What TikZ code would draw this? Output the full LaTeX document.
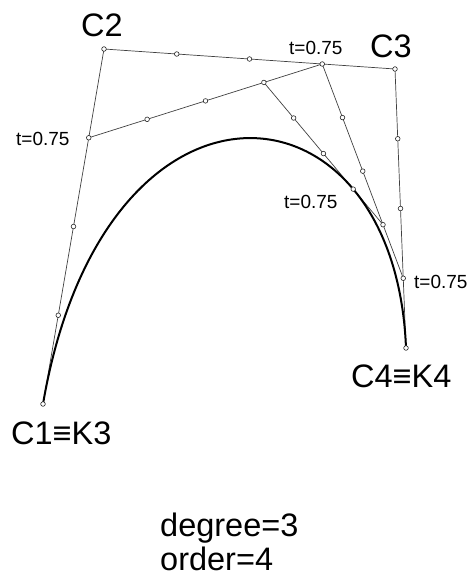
\documentclass[tikz,border=0pt]{standalone}
\usepackage{fontspec}
\setmainfont{Liberation Sans}
\usetikzlibrary{calc, positioning}

\begin{document}
\begin{tikzpicture}[x=1pt, y=-1pt,
    ctrl/.style={draw=black!75, line width=0.7pt},
    curve/.style={draw=black, line width=2pt},
    dot/.style={circle, draw=black!85, fill=white, line width=0.6pt, inner sep=0pt, minimum size=4.6pt},
    big/.style={font=\fontsize{32.5}{36}\selectfont, inner sep=0pt, anchor=base west},
    small/.style={font=\fontsize{19}{21}\selectfont, inner sep=0pt, anchor=base west}]
    \useasboundingbox (0,0) rectangle (468,576);

    % Control points
    \coordinate (C1) at (43,404);
    \coordinate (C2) at (104,49);
    \coordinate (C3) at (395,69);
    \coordinate (C4) at (406,348);

    % de Casteljau, t=0.75
    \coordinate (P01) at ($(C1)!0.75!(C2)$);
    \coordinate (P12) at ($(C2)!0.75!(C3)$);
    \coordinate (P23) at ($(C3)!0.75!(C4)$);
    \coordinate (P012) at ($(P01)!0.75!(P12)$);
    \coordinate (P123) at ($(P12)!0.75!(P23)$);
    \coordinate (P0123) at ($(P012)!0.75!(P123)$);

    % Construction lines
    \draw[ctrl] (C1) -- (C2) -- (C3) -- (C4);
    \draw[ctrl] (P01) -- (P12) -- (P23);
    \draw[ctrl] (P012) -- (P123);

    % Curve
    \draw[curve] (C1) .. controls (C2) and (C3) .. (C4);

    % Markers
    \foreach \a/\b in {C1/C2, C2/C3, C3/C4, P01/P12, P12/P23, P012/P123} {
        \foreach \t [count=\k] in {0.25, 0.5, 0.75}
            \node[dot] (m\a\k) at ($(\a)!\t!(\b)$) {};
    }
    \foreach \p in {C1, C2, C3, C4}
        \node[dot] (m\p) at (\p) {};

    % Labels
    \node[big] (lC1) at (11,444) {C1≡K3};
    \node[big] (lC2) at (81,36) {C2};
    \node[big] (lC3) at (370,57) {C3};
    \node[big] (lC4) at (351,387) {C4≡K4};
    \node[small] (t01) at (16,145) {t=0.75};
    \node[small] (t12) at (289,54) {t=0.75};
    \node[small] (t0123) at (284,208) {t=0.75};
    \node[small] (t23) at (414,288) {t=0.75};
    \node[big] (deg) at (160,536) {degree=3};
    \node[big] (ord) at (160,570) {order=4};
\end{tikzpicture}
\end{document}
